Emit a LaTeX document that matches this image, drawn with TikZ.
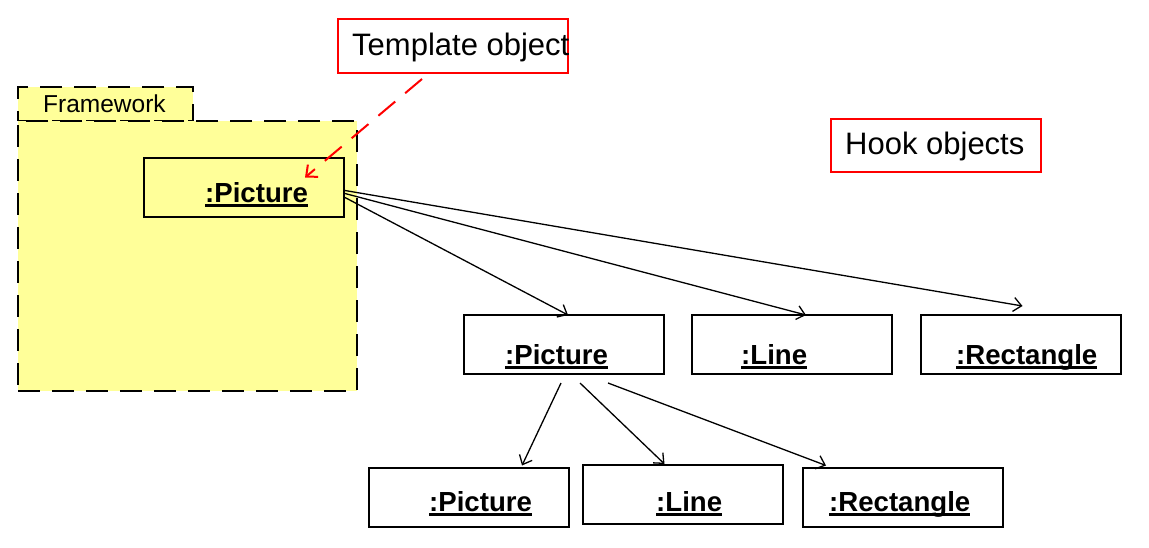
\documentclass[tikz,border=0pt]{standalone}
\usepackage{fontspec}
\setmainfont{Liberation Sans}
\usetikzlibrary{arrows.meta,calc}
\definecolor{fwyellow}{RGB}{255,255,153}
\definecolor{callred}{RGB}{255,0,0}
\newcommand\myul[1]{\setbox0\hbox{#1}\rlap{\rule[-5pt]{\wd0}{2.6pt}}\box0}
\begin{document}
\begin{tikzpicture}[x=1pt,y=-1pt,
  objbox/.style={draw=black,line width=2pt,minimum width=200pt,minimum height=59pt,inner sep=0pt},
  objlabel/.style={anchor=base west,inner sep=0pt,font=\fontsize{27.6}{31}\selectfont\bfseries},
  callout/.style={draw=callred,line width=2pt,inner sep=0pt},
  calltext/.style={anchor=base west,inner sep=0pt,font=\fontsize{31}{35}\selectfont},
  fwpart/.style={fill=fwyellow,draw=black,line width=2.6pt,dash pattern=on 22pt off 12pt,inner sep=0pt},
  link/.style={draw=black,line width=1.3pt,-{Straight Barb[length=8pt,width=14pt,line width=1.3pt]}},
  redlink/.style={draw=callred,line width=2pt,dash pattern=on 22pt off 13pt,-{Straight Barb[length=9pt,width=16pt,line width=2pt]}}]
\useasboundingbox (0,0) rectangle (1149,547);
% framework package
\node[fwpart,minimum width=175pt,minimum height=34pt] (fwtab) at (105.5,104) {};
\node[fwpart,minimum width=339pt,minimum height=270pt] (fwbody) at (187.5,256) {};
\node[anchor=base west,inner sep=0pt,font=\fontsize{24.5}{28}\selectfont] (fwlabel) at (43,112) {Framework};
% callouts
\node[callout,minimum width=230pt,minimum height=54pt] (tmpl) at (453,46) {};
\node[calltext] (tmpltext) at (352,55) {Template object};
\node[callout,minimum width=210pt,minimum height=53pt] (hook) at (936,145.5) {};
\node[calltext] (hooktext) at (845,154) {Hook objects};
% object boxes
\node[objbox] (p0) at (244,187.5) {};
\node[objlabel] (p0t) at (205,202) {\myul{:Picture}};
\node[objbox] (p1) at (564,344.5) {};
\node[objlabel] (p1t) at (505,364) {\myul{:Picture}};
\node[objbox] (l1) at (792,344.5) {};
\node[objlabel] (l1t) at (741,364) {\myul{:Line}};
\node[objbox] (r1) at (1020.5,344.5) {};
\node[objlabel] (r1t) at (956,364) {\myul{:Rectangle}};
\node[objbox] (p2) at (469,497) {};
\node[objlabel] (p2t) at (429,511) {\myul{:Picture}};
\node[objbox] (l2) at (682.5,494.5) {};
\node[objlabel] (l2t) at (656,511) {\myul{:Line}};
\node[objbox] (r2) at (903,497) {};
\node[objlabel] (r2t) at (829,511) {\myul{:Rectangle}};
% links
\draw[link] ($(p0.east)+(0,10)$) -- ($(p1.north)+(4,1)$);
\draw[link] ($(p0.east)+(0,6)$) -- ($(l1.north)+(14,1)$);
\draw[link] ($(p0.east)+(0,3)$) -- ($(r1.north)+(2,-8)$);
\draw[link] ($(p1.south)+(-3,8)$) -- ($(p2.north)+(53,-1)$);
\draw[link] ($(p1.south)+(16,8)$) -- ($(l2.north)+(-18,0)$);
\draw[link] ($(p1.south)+(44,8)$) -- ($(r2.north)+(-77,-1)$);
\draw[redlink] ($(tmpl.south)+(-31,5)$) -- ($(p0.center)+(61,-10)$);
\end{tikzpicture}
\end{document}
